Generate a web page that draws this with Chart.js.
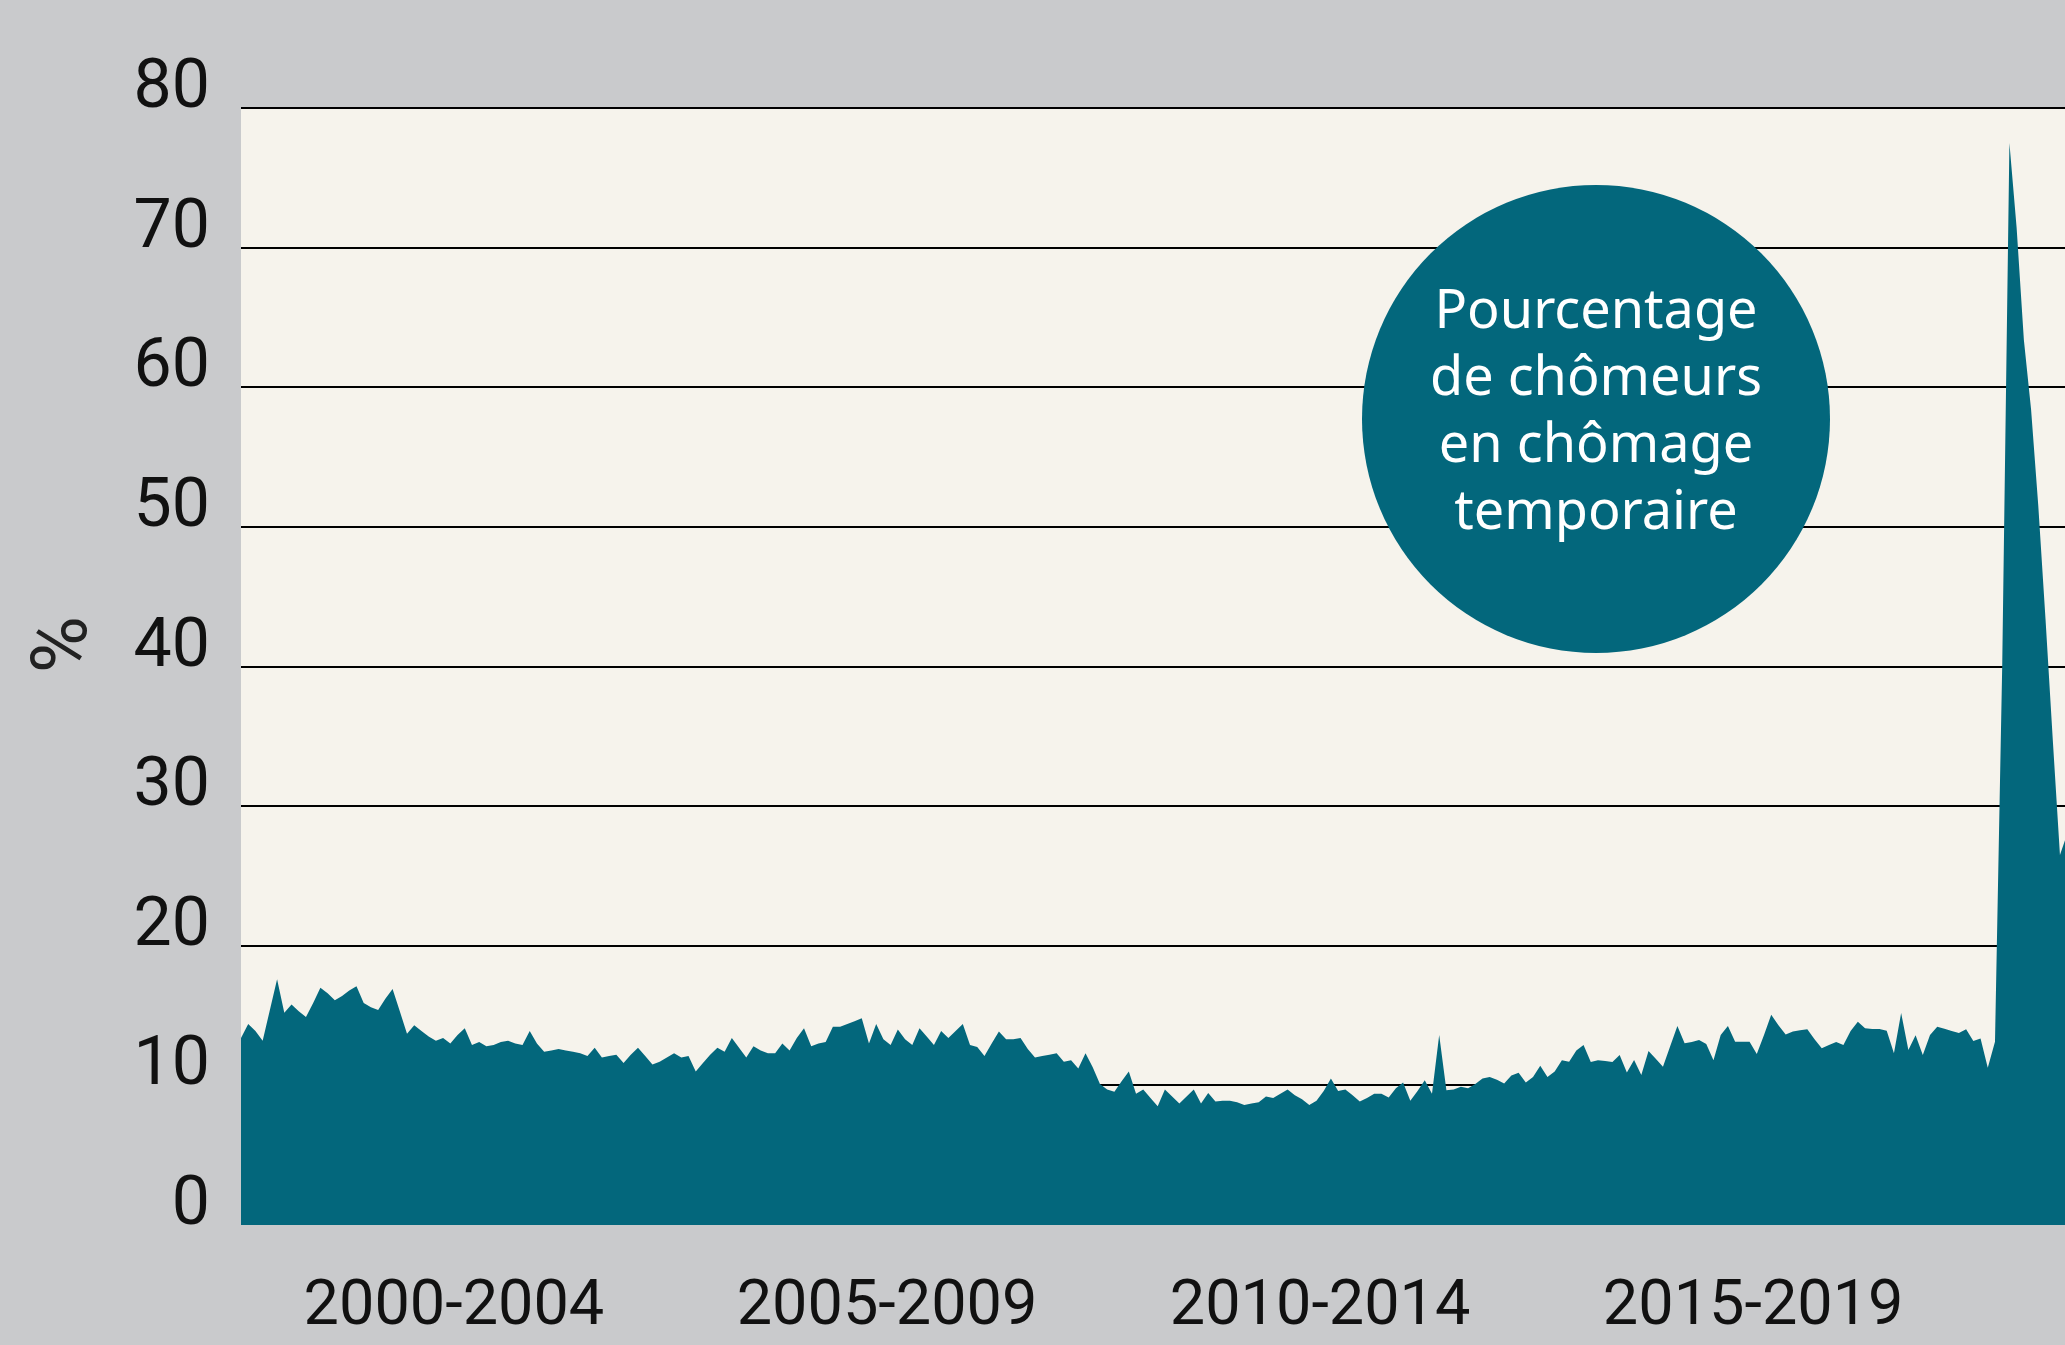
<!DOCTYPE html>
<html lang="fr">
<head>
<meta charset="utf-8">
<title>Chômage temporaire</title>
<script src="https://cdn.jsdelivr.net/npm/chart.js"></script>
<style>
    html, body { margin: 0; padding: 0; background: #c9cacc; }
    #wrap { position: relative; width: 2065px; height: 1345px; }
    #chart { display: block; }
    .bubble {
        position: absolute; left: 1362px; top: 185px;
        width: 468px; height: 468px; border-radius: 50%;
        background: #03677c; color: #fff;
        display: flex; align-items: center; justify-content: center;
        box-sizing: border-box; padding-bottom: 22px;
        font-family: "Noto Sans", sans-serif; font-size: 54px; line-height: 67px;
        text-align: center;
    }
</style>
</head>
<body>
<div id="wrap">
    <canvas id="chart" width="2065" height="1345"></canvas>
    <div class="bubble">Pourcentage<br>de chômeurs<br>en chômage<br>temporaire</div>
</div>
<script>
// monthly share (%) of unemployed on temporary unemployment, starting Jan 2000
const tempShare = [
    13.4, 14.4, 13.9, 13.2, 15.4, 17.6, 15.2, 15.8, 15.3, 14.9, 15.9, 17.0,
    16.6, 16.1, 16.4, 16.8, 17.1, 15.9, 15.6, 15.4, 16.2, 16.9, 15.3, 13.7,
    14.3, 13.9, 13.5, 13.2, 13.4, 13.0, 13.6, 14.1, 12.9, 13.1, 12.8, 12.9,
    13.1, 13.2, 13.0, 12.9, 13.9, 13.0, 12.4, 12.5, 12.6, 12.5, 12.4, 12.3,
    12.1, 12.7, 12.0, 12.1, 12.2, 11.6, 12.2, 12.7, 12.1, 11.5, 11.7, 12.0,
    12.3, 12.0, 12.1, 11.0, 11.6, 12.2, 12.7, 12.4, 13.4, 12.7, 12.0, 12.8,
    12.5, 12.3, 12.3, 13.0, 12.5, 13.4, 14.1, 12.8, 13.0, 13.1, 14.2, 14.2,
    14.4, 14.6, 14.8, 13.0, 14.4, 13.3, 12.9, 14.0, 13.3, 12.9, 14.1, 13.5,
    12.9, 13.9, 13.4, 13.9, 14.4, 12.9, 12.75, 12.1, 13.0, 13.85, 13.3, 13.3,
    13.4, 12.6, 12.0, 12.1, 12.2, 12.3, 11.7, 11.8, 11.2, 12.3, 11.3, 10.1,
    9.7, 9.55, 10.3, 11.0, 9.4, 9.7, 9.1, 8.5, 9.7, 9.2, 8.7, 9.2,
    9.7, 8.7, 9.45, 8.85, 8.9, 8.9, 8.8, 8.6, 8.7, 8.8, 9.2, 9.1,
    9.4, 9.7, 9.3, 9.0, 8.6, 8.9, 9.6, 10.5, 9.6, 9.7, 9.3, 8.85,
    9.1, 9.4, 9.4, 9.14, 9.8, 10.2, 8.9, 9.6, 10.36, 9.4, 13.6, 9.65,
    9.7, 9.9, 9.8, 10.1, 10.5, 10.6, 10.4, 10.14, 10.7, 10.9, 10.2, 10.6,
    11.4, 10.6, 11.0, 11.8, 11.7, 12.5, 12.9, 11.67, 11.8, 11.75, 11.67, 12.18,
    10.93, 11.82, 10.74, 12.46, 11.9, 11.34, 12.8, 14.26, 13.01, 13.1, 13.25, 12.97,
    11.8, 13.6, 14.26, 13.13, 13.13, 13.13, 12.25, 13.6, 15.05, 14.3, 13.64, 13.85,
    13.95, 14.02, 13.3, 12.66, 12.9, 13.11, 12.89, 13.9, 14.55, 14.1, 14.04, 14.04,
    13.92, 12.3, 15.19, 12.54, 13.59, 12.18, 13.6, 14.2, 14.05, 13.9, 13.75, 14.02,
    13.18, 13.35, 11.27, 13.13, 40.0, 77.5, 71.4, 63.4, 58.4, 51.5, 43.4, 34.8,
    26.5, 28.0
];

// x-axis: one label per 5-year period, placed mid-period (months since Jan 2000)
const periodLabels = ['2000-2004', '2005-2009', '2010-2014', '2015-2019'];
const periodCenters = [29.5, 89.5, 149.5, 209.5];

const TEAL = '#03677c';
const CREAM = '#f6f3ec';

const plotBackground = {
    id: 'plotBackground',
    beforeDraw(chart) {
        const { ctx, chartArea: a } = chart;
        ctx.save();
        ctx.fillStyle = CREAM;
        ctx.fillRect(a.left, a.top, a.right - a.left, a.bottom - a.top);
        ctx.restore();
    }
};

const points = tempShare.map((v, i) => ({ x: i, y: v }));

new Chart(document.getElementById('chart'), {
    type: 'line',
    data: {
        datasets: [{
            data: points,
            fill: 'origin',
            backgroundColor: TEAL,
            borderWidth: 0,
            pointRadius: 0,
            tension: 0,
        }],
    },
    options: {
        responsive: false,
        animation: false,
        devicePixelRatio: 1,
        layout: { padding: { top: 108, left: 0, right: 0, bottom: 0 } },
        plugins: { legend: { display: false }, tooltip: { enabled: false } },
        scales: {
            x: {
                type: 'linear', min: 0, max: 252.7,
                grid: { display: false }, border: { display: false },
                afterBuildTicks: s => { s.ticks = periodCenters.map(v => ({ value: v })); },
                afterFit: s => { s.height = 120; },
                ticks: {
                    autoSkip: false, maxRotation: 0, padding: 37, color: '#111',
                    font: { family: 'Roboto', size: 63 },
                    callback: (v, i) => periodLabels[i],
                },
            },
            y: {
                min: 0, max: 80, z: 1,
                afterFit: s => { s.width = 241; },
                border: { display: false },
                grid: {
                    color: c => c.tick.value === 0 ? 'rgba(0,0,0,0)' : '#000',
                    lineWidth: 2, drawTicks: false,
                },
                ticks: {
                    stepSize: 10, padding: 31, labelOffset: -18, color: '#111',
                    font: { family: 'Roboto', size: 68 },
                },
                title: {
                    display: true, text: '\u2007%', color: '#222',
                    font: { family: 'Roboto', size: 78 },
                    padding: { top: 20, bottom: 0 },
                },
            },
        },
    },
    plugins: [plotBackground],
});
</script>
</body>
</html>
